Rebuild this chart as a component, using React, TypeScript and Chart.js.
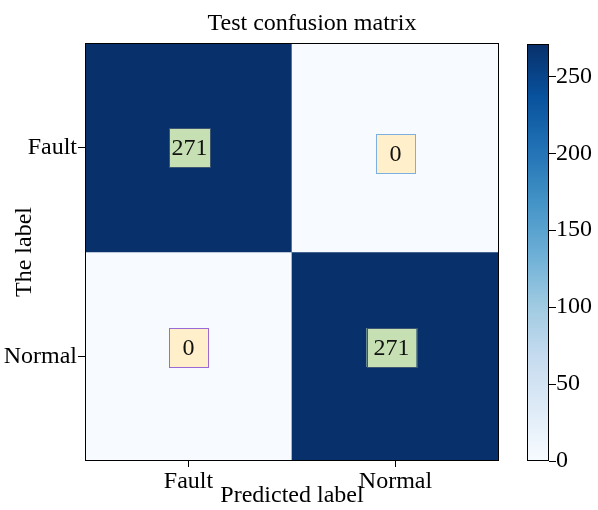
import React, { useEffect, useRef } from "react";
import { Chart, registerables } from "chart.js";

Chart.register(...registerables);

// ---- data ----
const classes = ["Fault", "Normal"];
const matrix = [
  [271, 0],
  [0, 271],
];
const colorbarTicks = [0, 50, 100, 150, 200, 250];
const colorMax = 271;
const chartTitle = "Test confusion matrix";
const xTitle = "Predicted label";
const yTitle = "The label";

// ---- styling ----
const FONT = '"Liberation Serif", "Times New Roman", serif';
const BLUES = [
  "#f7fbff",
  "#deebf7",
  "#c6dbef",
  "#9ecae1",
  "#6baed6",
  "#4292c6",
  "#2171b5",
  "#08519c",
  "#08306b",
];

// annotation box look per cell (row, col)
const boxStyles = [
  [
    { fill: "#c6e0b4", stroke: "#3d5573", w: 41, dx: 1, dy: 0 },
    { fill: "#fff0cb", stroke: "#7cb0e2", w: 39, dx: 0, dy: 6 },
  ],
  [
    { fill: "#fff0cb", stroke: "#9a6bd4", w: 39, dx: 0, dy: -9 },
    { fill: "#c6e0b4", stroke: "#3d5573", w: 50, dx: -4, dy: -9 },
  ],
];

function hexToRgb(h: string): number[] {
  const n = parseInt(h.slice(1), 16);
  return [(n >> 16) & 255, (n >> 8) & 255, n & 255];
}

function blues(t: number): string {
  const tt = Math.max(0, Math.min(1, t));
  const pos = tt * (BLUES.length - 1);
  const i = Math.min(Math.floor(pos), BLUES.length - 2);
  const f = pos - i;
  const a = hexToRgb(BLUES[i]);
  const b = hexToRgb(BLUES[i + 1]);
  const c = a.map((v, k) => Math.round(v + (b[k] - v) * f));
  return `rgb(${c[0]},${c[1]},${c[2]})`;
}

// black frame around the plotting area
const framePlugin = {
  id: "frame",
  afterDatasetsDraw(chart: any) {
    const { ctx, chartArea } = chart;
    ctx.save();
    ctx.strokeStyle = "#000";
    ctx.lineWidth = 1;
    ctx.strokeRect(
      Math.round(chartArea.left) + 0.5,
      Math.round(chartArea.top) + 0.5,
      Math.round(chartArea.right - chartArea.left) - 1,
      Math.round(chartArea.bottom - chartArea.top) - 1
    );
    ctx.restore();
  },
};

// boxed count labels in each cell
const cellLabelPlugin = {
  id: "cellLabels",
  afterDatasetsDraw(chart: any) {
    const { ctx } = chart;
    ctx.save();
    ctx.font = `24px ${FONT}`;
    ctx.textAlign = "center";
    ctx.textBaseline = "middle";
    matrix.forEach((row, r) => {
      const meta = chart.getDatasetMeta(r);
      row.forEach((v, c) => {
        const bar = meta.data[c];
        const st = boxStyles[r][c];
        const cx = bar.x + st.dx;
        const cy = (bar.y + bar.base) / 2 + st.dy;
        const w = st.w;
        const h = 39;
        ctx.fillStyle = st.fill;
        ctx.fillRect(cx - w / 2, cy - h / 2, w, h);
        ctx.strokeStyle = st.stroke;
        ctx.lineWidth = 1;
        ctx.strokeRect(Math.round(cx - w / 2) + 0.5, Math.round(cy - h / 2) + 0.5, w, h);
        ctx.fillStyle = "#111";
        ctx.fillText(String(v), cx, cy + 1);
      });
    });
    ctx.restore();
  },
};

export default function App() {
  const mainRef = useRef<HTMLCanvasElement>(null);
  const barRef = useRef<HTMLCanvasElement>(null);

  useEffect(() => {
    Chart.defaults.font.family = FONT;
    Chart.defaults.color = "#000";
    const n = classes.length;

    const main = new Chart(mainRef.current as HTMLCanvasElement, {
      type: "bar",
      data: {
        labels: classes,
        datasets: matrix.map((row, r) => ({
          label: classes[r],
          data: row.map(() => [n - 1 - r, n - r]),
          backgroundColor: row.map((v) => blues(v / colorMax)),
          borderWidth: 0,
          grouped: false,
          barPercentage: 1,
          categoryPercentage: 1,
        })) as any,
      },
      options: {
        responsive: false,
        animation: false,
        layout: { padding: { left: 0, right: 16, top: 43, bottom: 0 } },
        plugins: {
          legend: { display: false },
          tooltip: { enabled: false },
          title: { display: false },
        },
        scales: {
          x: {
            type: "category",
            offset: true,
            grid: {
              display: true,
              drawOnChartArea: false,
              drawTicks: true,
              tickLength: 6,
              color: "#000",
              offset: false,
            },
            border: { display: false },
            ticks: { color: "#000", font: { size: 24, family: FONT }, padding: 0, maxRotation: 0 },
            title: {
              display: true,
              text: xTitle,
              color: "#000",
              font: { size: 24, family: FONT },
              padding: { top: 0, bottom: 0 },
            },
            afterFit: (s: any) => {
              s.height = 49;
            },
          },
          y: {
            type: "linear",
            min: 0,
            max: n,
            afterBuildTicks: (s: any) => {
              s.ticks = classes.map((_, r) => ({ value: n - r - 0.5 }));
            },
            grid: {
              display: true,
              drawOnChartArea: false,
              drawTicks: true,
              tickLength: 7,
              color: "#000",
            },
            border: { display: false },
            ticks: {
              color: "#000",
              font: { size: 24, family: FONT },
              padding: 1,
              callback: (v: any) => classes[Math.round(n - 0.5 - Number(v))],
            },
            title: {
              display: true,
              text: yTitle,
              color: "#000",
              font: { size: 24, family: FONT },
              padding: { top: 10, bottom: 0 },
            },
            afterFit: (s: any) => {
              s.width = 85;
            },
          },
        },
      } as any,
      plugins: [cellLabelPlugin, framePlugin],
    });

    const colorbar = new Chart(barRef.current as HTMLCanvasElement, {
      type: "bar",
      data: {
        labels: [""],
        datasets: [
          {
            data: [[0, colorMax]] as any,
            borderWidth: 0,
            barPercentage: 1,
            categoryPercentage: 1,
            backgroundColor: (ctx: any) => {
              const area = ctx.chart.chartArea;
              if (!area) return BLUES[0];
              const g = ctx.chart.ctx.createLinearGradient(0, area.bottom, 0, area.top);
              BLUES.forEach((col, i) => g.addColorStop(i / (BLUES.length - 1), col));
              return g;
            },
          },
        ],
      },
      options: {
        responsive: false,
        animation: false,
        layout: { padding: { left: 27, right: 0, top: 44, bottom: 49 } },
        plugins: {
          legend: { display: false },
          tooltip: { enabled: false },
          title: { display: false },
        },
        scales: {
          x: { display: false },
          y: {
            position: "right",
            min: 0,
            max: colorMax,
            afterBuildTicks: (s: any) => {
              s.ticks = colorbarTicks.map((v) => ({ value: v }));
            },
            grid: {
              display: true,
              drawOnChartArea: false,
              drawTicks: true,
              tickLength: 7,
              color: "#000",
            },
            border: { display: false },
            ticks: { color: "#000", font: { size: 24, family: FONT }, padding: 0 },
            afterFit: (s: any) => {
              s.width = 49;
            },
          },
        },
      } as any,
      plugins: [framePlugin],
    });

    return () => {
      main.destroy();
      colorbar.destroy();
    };
  }, []);

  return (
    <div
      style={{
        position: "fixed",
        left: 0,
        top: 0,
        width: 598,
        height: 510,
        background: "#fff",
        overflow: "hidden",
      }}
    >
      <canvas ref={mainRef} width={515} height={510} style={{ position: "absolute", left: 0, top: 0 }} />
      <canvas ref={barRef} width={98} height={510} style={{ position: "absolute", left: 500, top: 0 }} />
      <div
        style={{
          position: "absolute",
          left: 112,
          top: 10,
          width: 400,
          textAlign: "center",
          fontFamily: FONT,
          fontSize: 24,
          lineHeight: "24px",
          color: "#000",
          whiteSpace: "nowrap",
        }}
      >
        {chartTitle}
      </div>
    </div>
  );
}
